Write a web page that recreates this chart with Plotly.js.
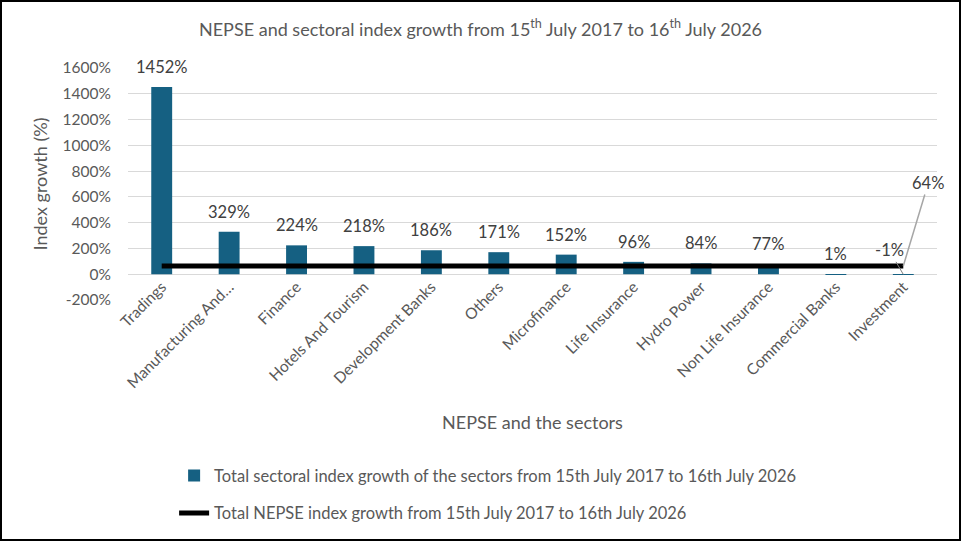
<!DOCTYPE html>
<html>
<head>
<meta charset="utf-8">
<script src="https://cdn.plot.ly/plotly-3.0.1.min.js"></script>
<style>
  body { margin: 0; background: #fff; }
  #wrap { position: relative; width: 961px; height: 541px; }
  #frame { position: absolute; left: 0; top: 0; width: 957px; height: 537px; border: 2px solid #000; pointer-events: none; }
</style>
</head>
<body>
<div id="wrap">
  <div id="chart" style="width:961px;height:541px;"></div>
  <div id="frame"></div>
</div>
<script>
const sectors = ["Tradings", "Manufacturing And…", "Finance", "Hotels And Tourism", "Development Banks",
    "Others", "Microfinance", "Life Insurance", "Hydro Power", "Non Life Insurance",
    "Commercial Banks", "Investment"];
const sectorGrowth = [1452, 329, 224, 218, 186, 171, 152, 96, 84, 77, 1, -1];
const nepseGrowth = [64, 64, 64, 64, 64, 64, 64, 64, 64, 64, 64, 64];
const yTicks = [-200, 0, 200, 400, 600, 800, 1000, 1200, 1400, 1600];

const textColor = "#595959";
const fontFam = "Lato, 'Open Sans', sans-serif";

let trace_sectors = {
    name: "Total sectoral index growth of the sectors from 15th July 2017 to 16th July 2026",
    x: sectors,
    y: sectorGrowth,
    type: "bar",
    marker: { color: "#156082" },
    legendgroup: "a",
    hoverinfo: "x+y",
};
let trace_nepse = {
    name: "Total NEPSE index growth from 15th July 2017 to 16th July 2026",
    x: sectors,
    y: nepseGrowth,
    type: "scatter",
    mode: "lines",
    line: { color: "black", width: 5 },
    legendgroup: "b",
};

// bar value labels sit above each bar
let labels = sectors.map((s, i) => {
    let a = {
        x: s, y: sectorGrowth[i], text: sectorGrowth[i] + "%",
        showarrow: false, yanchor: "bottom", yshift: 8,
        font: { size: 16.5, color: "#404040", family: fontFam },
    };
    if (s === "Investment") {
        a = Object.assign(a, { showarrow: true, arrowhead: 0, arrowcolor: "#7f7f7f", arrowwidth: 1,
            ax: -14, ay: -24, yshift: 0, yanchor: "auto" });
    }
    return a;
});
labels.push({
    x: sectors[sectors.length - 1], y: nepseGrowth[nepseGrowth.length - 1],
    text: nepseGrowth[nepseGrowth.length - 1] + "%",
    showarrow: true, arrowhead: 0, arrowcolor: "#a6a6a6", arrowwidth: 1.5,
    ax: 25, ay: -83,
    font: { size: 16.5, color: "#404040", family: fontFam },
});

let layout = {
    width: 961,
    height: 541,
    margin: { l: 128, r: 24, t: 68, b: 241, autoexpand: false },
    paper_bgcolor: "white",
    plot_bgcolor: "white",
    font: { family: fontFam, color: textColor, size: 15 },
    title: {
        text: "NEPSE and sectoral index growth from 15<sup>th</sup> July 2017 to 16<sup>th</sup> July 2026",
        font: { size: 18, color: textColor },
        x: 0.5, xref: "container", y: 0.945, yref: "container", yanchor: "middle",
    },
    bargap: 0.69,
    showlegend: true,
    legend: {
        x: 0.057, y: -0.682,
        xanchor: "left", yanchor: "top",
        traceorder: "grouped", tracegroupgap: 13,
        font: { size: 16.5, color: textColor },
    },
    xaxis: {
        range: [-0.5, 11.5],
        anchor: "free", position: 0.112,
        automargin: false,
        tickangle: -45,
        showline: false, ticks: "",
        tickfont: { size: 15.5, color: textColor },
        title: { text: "NEPSE and the sectors", font: { size: 18, color: textColor }, standoff: 26 },
        showgrid: false,
    },
    yaxis: {
        range: [-200, 1600],
        automargin: false,
        tickvals: yTicks,
        ticktext: yTicks.map((v) => v + "%"),
        gridcolor: "#d9d9d9",
        zeroline: false,
        showline: false,
        ticklabelstandoff: 16,
        tickfont: { size: 15.5, color: textColor },
        title: { text: "Index growth (%)", font: { size: 18, color: textColor }, standoff: 10 },
    },
    annotations: labels,
};

let config = { responsive: false, displayModeBar: false };
Plotly.newPlot("chart", [trace_sectors, trace_nepse], layout, config);
</script>
</body>
</html>
